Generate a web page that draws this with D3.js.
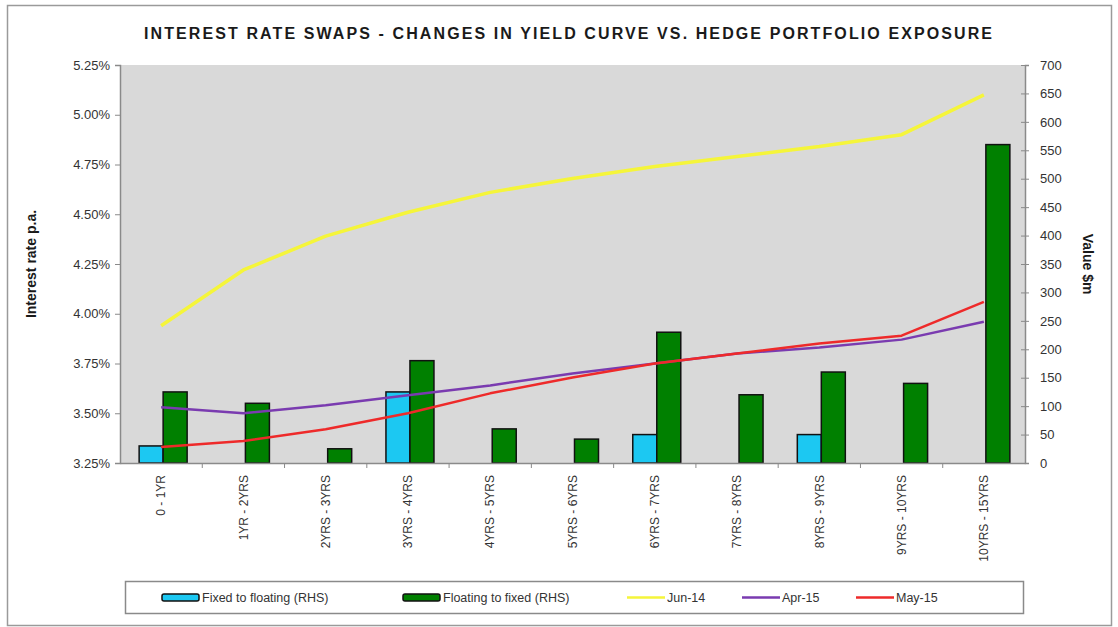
<!DOCTYPE html>
<html>
<head>
<meta charset="utf-8">
<script src="https://cdn.jsdelivr.net/npm/d3@7"></script>
<style>
  body { margin: 0; background: #fff; }
  svg { display: block; font-family: 'Liberation Sans', Arial, sans-serif; }
</style>
</head>
<body>
<svg id="chart" width="1118" height="627"></svg>
<script>
// categories (maturity buckets)
var categories = ['0 - 1YR', '1YR - 2YRS', '2YRS - 3YRS', '3YRS - 4YRS', '4YRS - 5YRS',
  '5YRS - 6YRS', '6YRS - 7YRS', '7YRS - 8YRS', '8YRS - 9YRS', '9YRS - 10YRS', '10YRS - 15YRS'];

// bar series, $m (right axis)
var fixedToFloating = [30, 0, 0, 125, 0, 0, 50, 0, 50, 0, 0];
var floatingToFixed = [125, 105, 25, 180, 60, 42, 230, 120, 160, 140, 560];

// yield curves, % p.a. (left axis)
var jun14 = [3.94, 4.22, 4.39, 4.51, 4.61, 4.68, 4.74, 4.79, 4.84, 4.90, 5.10];
var apr15 = [3.53, 3.50, 3.54, 3.59, 3.64, 3.70, 3.75, 3.80, 3.83, 3.87, 3.96];
var may15 = [3.33, 3.36, 3.42, 3.50, 3.60, 3.68, 3.75, 3.80, 3.85, 3.89, 4.06];

// tick values
var rateTicks = [3.25, 3.5, 3.75, 4.0, 4.25, 4.5, 4.75, 5.0, 5.25];
var valueTicks = [0, 50, 100, 150, 200, 250, 300, 350, 400, 450, 500, 550, 600, 650, 700];

var svg = d3.select('#chart');

// plot box
var plotLeft = 120, plotRight = 1025, plotTop = 65, plotBottom = 463;

// outer frame
svg.append('rect')
  .attr('x', 7.5).attr('y', 5.5)
  .attr('width', 1104).attr('height', 620)
  .attr('fill', '#fff')
  .attr('stroke', '#9a9a9a')
  .attr('stroke-width', 1.5);

// title
svg.append('text')
  .attr('x', 568).attr('y', 39)
  .attr('text-anchor', 'middle')
  .attr('textLength', 848)
  .attr('lengthAdjust', 'spacing')
  .style('font-size', '16px')
  .style('font-weight', 'bold')
  .attr('fill', '#1a1a1a')
  .text('INTEREST RATE SWAPS - CHANGES IN YIELD CURVE VS. HEDGE PORTFOLIO EXPOSURE');

// scales
var x = d3.scaleBand().domain(categories).range([plotLeft, plotRight]);
var sub = d3.scaleBand().domain(['fixed', 'floating']).range([0, 48]);
var yRate = d3.scaleLinear().domain([3.25, 5.25]).range([plotBottom, plotTop]);
var yValue = d3.scaleLinear().domain([0, 700]).range([plotBottom, plotTop]);

// plot background
svg.append('rect')
  .attr('x', plotLeft).attr('y', plotTop)
  .attr('width', plotRight - plotLeft).attr('height', plotBottom - plotTop)
  .attr('fill', '#d9d9d9');

// bars
var barOffset = x.bandwidth() / 2 - 22;
var barSeries = [
  { key: 'fixed', values: fixedToFloating, color: '#1cc8f2' },
  { key: 'floating', values: floatingToFixed, color: '#008000' }
];
barSeries.forEach(function (s) {
  var rows = s.values
    .map(function (v, i) { return { cat: categories[i], v: v }; })
    .filter(function (d) { return d.v > 0; });
  svg.append('g')
    .selectAll('rect')
    .data(rows)
    .enter()
    .append('rect')
    .attr('x', function (d) { return x(d.cat) + barOffset + sub(s.key); })
    .attr('y', function (d) { return yValue(d.v); })
    .attr('width', sub.bandwidth())
    .attr('height', function (d) { return yValue(0) - yValue(d.v); })
    .attr('fill', s.color)
    .attr('stroke', '#111')
    .attr('stroke-width', 1.5);
});

// lines
var lineSeries = [
  { name: 'Jun-14', values: jun14, color: '#f5f53a', width: 3.5 },
  { name: 'Apr-15', values: apr15, color: '#7a3bb0', width: 2.5 },
  { name: 'May-15', values: may15, color: '#ee2a2a', width: 2.5 }
];
var line = d3.line()
  .x(function (d, i) { return x(categories[i]) + x.bandwidth() / 2; })
  .y(function (d) { return yRate(d); });
lineSeries.forEach(function (s) {
  svg.append('path')
    .datum(s.values)
    .attr('d', line)
    .attr('fill', 'none')
    .attr('stroke', s.color)
    .attr('stroke-width', s.width)
    .attr('stroke-linejoin', 'round');
});

// axes
var axisColor = '#8a8a8a';
var labelColor = '#333';

var leftAxis = svg.append('g')
  .attr('transform', 'translate(' + plotLeft + ',0)')
  .call(d3.axisLeft(yRate).tickValues(rateTicks).tickSize(5).tickPadding(5)
    .tickFormat(function (d) { return d.toFixed(2) + '%'; }));

var rightAxis = svg.append('g')
  .attr('transform', 'translate(' + plotRight + ',0)')
  .call(d3.axisRight(yValue).tickValues(valueTicks).tickSize(4).tickPadding(11));
rightAxis.selectAll('.tick line').attr('x1', -4);

var bottomAxis = svg.append('g')
  .attr('transform', 'translate(0,' + plotBottom + ')')
  .call(d3.axisBottom(x).tickSize(0).tickPadding(10));

[leftAxis, rightAxis, bottomAxis].forEach(function (a) {
  a.select('.domain').attr('stroke', axisColor).attr('stroke-width', 1.5);
  a.selectAll('.tick line').attr('stroke', axisColor);
  a.selectAll('.tick text')
    .attr('fill', labelColor)
    .style('font-size', '13px')
    .style('font-family', "'Liberation Sans', Arial, sans-serif");
});

// category separators on bottom axis
bottomAxis.selectAll('.sep')
  .data(categories.slice(1))
  .enter()
  .append('line')
  .attr('x1', function (d) { return x(d); })
  .attr('x2', function (d) { return x(d); })
  .attr('y1', 0).attr('y2', 5)
  .attr('stroke', axisColor);

// rotated category labels
bottomAxis.selectAll('.tick text')
  .style('font-size', '12px')
  .attr('text-anchor', 'end')
  .attr('dy', '0.35em')
  .attr('transform', 'translate(0,2) rotate(-90)')
  .attr('x', -10)
  .attr('y', 0);

// axis titles
svg.append('text')
  .attr('transform', 'translate(36,' + (plotTop + plotBottom) / 2 + ') rotate(-90)')
  .attr('text-anchor', 'middle')
  .style('font-size', '14px')
  .style('font-weight', 'bold')
  .attr('fill', '#1a1a1a')
  .text('Interest rate p.a.');

svg.append('text')
  .attr('transform', 'translate(1083,' + (plotTop + plotBottom) / 2 + ') rotate(90)')
  .attr('text-anchor', 'middle')
  .style('font-size', '14px')
  .style('font-weight', 'bold')
  .attr('fill', '#1a1a1a')
  .text('Value $m');

// legend
var legend = svg.append('g');
legend.append('rect')
  .attr('x', 125.5).attr('y', 581.5)
  .attr('width', 898).attr('height', 32)
  .attr('fill', '#fff')
  .attr('stroke', '#8a8a8a')
  .attr('stroke-width', 1.5);

var legendItems = [
  { label: 'Fixed to floating (RHS)', color: '#1cc8f2', type: 'bar', x: 162 },
  { label: 'Floating to fixed (RHS)', color: '#008000', type: 'bar', x: 403 },
  { label: 'Jun-14', color: '#f5f53a', type: 'line', x: 627 },
  { label: 'Apr-15', color: '#7a3bb0', type: 'line', x: 742 },
  { label: 'May-15', color: '#ee2a2a', type: 'line', x: 856 }
];
legendItems.forEach(function (it) {
  if (it.type === 'bar') {
    legend.append('rect')
      .attr('x', it.x).attr('y', 594)
      .attr('width', 37).attr('height', 7)
      .attr('rx', 2)
      .attr('fill', it.color)
      .attr('stroke', '#111')
      .attr('stroke-width', 1.5);
  } else {
    legend.append('line')
      .attr('x1', it.x).attr('x2', it.x + 38)
      .attr('y1', 597.5).attr('y2', 597.5)
      .attr('stroke', it.color)
      .attr('stroke-width', 2.5);
  }
  legend.append('text')
    .attr('x', it.x + 40).attr('y', 602)
    .style('font-size', '12.5px')
    .attr('fill', labelColor)
    .text(it.label);
});
</script>
</body>
</html>
